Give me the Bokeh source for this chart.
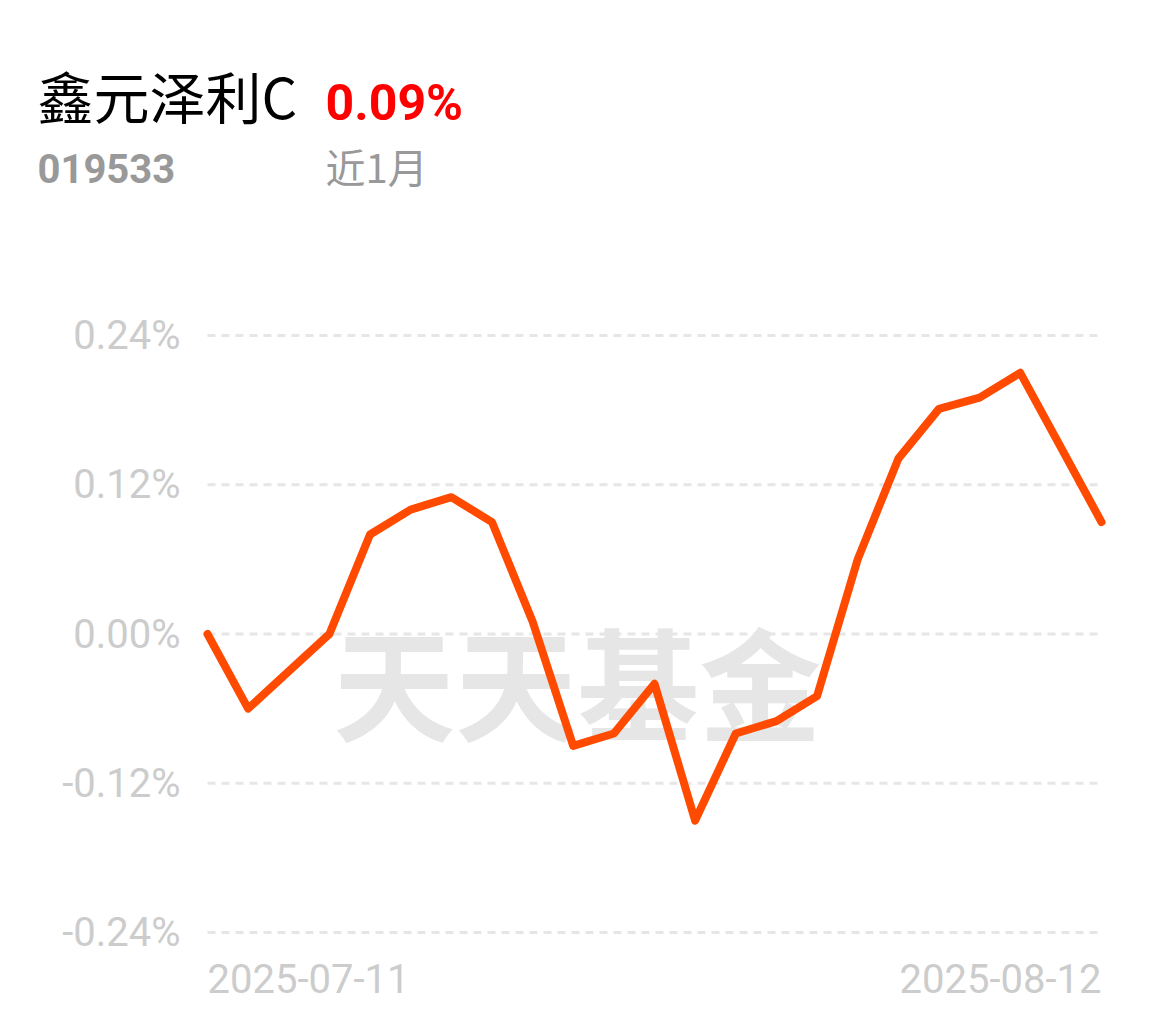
from bokeh.plotting import figure
from bokeh.layouts import column
from bokeh.models import Range1d, FixedTicker, PrintfTickFormatter
from bokeh.core.properties import value
from bokeh.embed import file_html
from bokeh.resources import INLINE

# ---- data ----
fund_name = "鑫元泽利C"
fund_code = "019533"
period_label = "近1月"
period_return = "0.09%"
watermark = "天天基金"

dates = ["2025-07-11", "2025-07-14", "2025-07-15", "2025-07-16", "2025-07-17",
         "2025-07-18", "2025-07-21", "2025-07-22", "2025-07-23", "2025-07-24",
         "2025-07-25", "2025-07-28", "2025-07-29", "2025-07-30", "2025-07-31",
         "2025-08-01", "2025-08-04", "2025-08-05", "2025-08-06", "2025-08-07",
         "2025-08-08", "2025-08-11", "2025-08-12"]
returns_pct = [0.000, -0.060, -0.030, 0.000, 0.080, 0.100, 0.110, 0.090, 0.010,
               -0.090, -0.080, -0.040, -0.150, -0.080, -0.070, -0.050, 0.060,
               0.141, 0.181, 0.190, 0.210, 0.150, 0.090]
y_ticks = [-0.24, -0.12, 0.0, 0.12, 0.24]

idx = list(range(len(dates)))

# ---- header figure ----
W = 1139
hdr = figure(width=W, height=220, output_backend="svg", toolbar_location=None,
             x_range=Range1d(0, W), y_range=Range1d(220, 0),
             min_border=0, min_border_left=0, min_border_right=0,
             min_border_top=0, min_border_bottom=0)
hdr.axis.visible = False
hdr.grid.visible = False
hdr.outline_line_color = None
hdr.title.visible = False

hdr.text(x=[37], y=[94], text=[fund_name], text_baseline="alphabetic",
         text_font=value("Noto Sans CJK SC"), text_font_size="56px",
         text_color="#000000")
hdr.text(x=[325], y=[102], text=[period_return], text_baseline="alphabetic",
         text_font=value("Roboto"), text_font_style="bold",
         text_font_size="50px", text_color="#ff0000")
hdr.text(x=[37], y=[168], text=[fund_code], text_baseline="alphabetic",
         text_font=value("Roboto"), text_font_style="bold",
         text_font_size="40px", text_color="#999999")
hdr.text(x=[325], y=[165], text=[period_label], text_baseline="alphabetic",
         text_font=value("Noto Sans CJK SC"), text_font_size="40px",
         text_color="#999999")

# ---- main chart ----
p = figure(width=W, height=800, output_backend="svg", toolbar_location=None,
           x_range=Range1d(-0.172, 22.221), y_range=Range1d(-0.29869, 0.26814),
           min_border_left=200, min_border_right=29, min_border_top=80,
           min_border_bottom=15)
p.outline_line_color = None
p.xgrid.visible = False
p.ygrid.visible = False
p.xaxis.visible = False

for fig in (hdr, p):
    try:
        fig.frame_align = False
    except Exception:
        pass

ax = p.yaxis[0]
ax.ticker = FixedTicker(ticks=y_ticks)
ax.formatter = PrintfTickFormatter(format="%.2f%%")
ax.axis_line_color = None
ax.major_tick_line_color = None
ax.minor_tick_line_color = None
ax.major_tick_out = 0
ax.major_tick_in = 0
ax.major_label_standoff = 20
ax.major_label_text_font = "Roboto"
ax.major_label_text_font_size = "40px"
ax.major_label_text_color = "#cccccc"

# watermark
p.text(x=[9.1], y=[-0.036], text=[watermark], text_align="center",
       text_baseline="middle", text_font=value("Noto Sans CJK SC"),
       text_font_style="bold", text_font_size="122px", text_color="#e6e6e6")

# gridlines
p.segment(x0=[idx[0]] * len(y_ticks), x1=[idx[-1]] * len(y_ticks),
          y0=y_ticks, y1=y_ticks, line_color="#e6e6e6", line_width=3,
          line_dash="8 6")

# series
p.line(idx, returns_pct, line_color="#ff4a00", line_width=8,
       line_join="round", line_cap="round")

# first / last date labels
p.text(x=[idx[0]], y=[y_ticks[0]], text=[dates[0]], text_align="left",
       text_baseline="top", y_offset=31, text_font=value("Roboto"),
       text_font_size="40px", text_color="#cccccc")
p.text(x=[idx[-1]], y=[y_ticks[0]], text=[dates[-1]], text_align="right",
       text_baseline="top", y_offset=31, text_font=value("Roboto"),
       text_font_size="40px", text_color="#cccccc")

layout = column(hdr, p, spacing=0)
open("out.html", "w").write(file_html(layout, INLINE))
